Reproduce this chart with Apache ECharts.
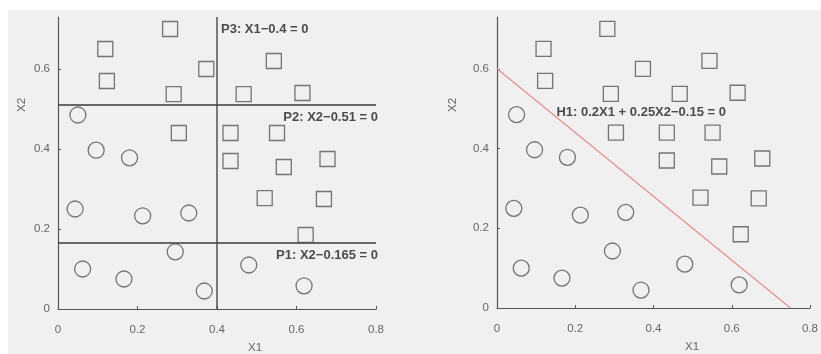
<!DOCTYPE html>
<html>
<head>
<meta charset="utf-8">
<script src="https://cdn.jsdelivr.net/npm/echarts@6/dist/echarts.min.js"></script>
<style>
html,body{margin:0;padding:0;background:#fff;}
#c{width:821px;height:354px;}
</style>
</head>
<body>
<div id="c"></div>
<script>
// Class A (squares): [X1, X2]
const squares = [
  [0.282, 0.700], [0.119, 0.650], [0.123, 0.570], [0.373, 0.600],
  [0.291, 0.537], [0.467, 0.537], [0.543, 0.620], [0.615, 0.540],
  [0.304, 0.440], [0.434, 0.440], [0.551, 0.440], [0.434, 0.370],
  [0.568, 0.355], [0.678, 0.375], [0.520, 0.277], [0.669, 0.275],
  [0.623, 0.185]
];
// Class B (circles): [X1, X2]
const circles = [
  [0.050, 0.485], [0.096, 0.397], [0.180, 0.378], [0.043, 0.250],
  [0.213, 0.233], [0.329, 0.240], [0.295, 0.143], [0.062, 0.100],
  [0.166, 0.075], [0.368, 0.045], [0.480, 0.110], [0.619, 0.058]
];
// Partition lines (left panel)
const p1Line = [[0, 0.165], [0.8, 0.165]];
const p2Line = [[0, 0.51], [0.8, 0.51]];
const p3Line = [[0.4, 0], [0.4, 0.73]];
// Hyperplane (right panel): 0.2X1 + 0.25X2 - 0.15 = 0
const h1Line = [[0, 0.6], [0.75, 0]];
// Line labels: [x, y, text, align]
const leftLabels = [
  [0.41, 0.70, 'P3: X1\u22120.4 = 0', 'left'],
  [0.805, 0.478, 'P2: X2\u22120.51 = 0', 'right'],
  [0.805, 0.135, 'P1: X2\u22120.165 = 0', 'right']
];
const rightLabels = [
  [0.152, 0.49, 'H1: 0.2X1 + 0.25X2\u22120.15 = 0', 'left']
];
const xTicks = { min: 0, max: 0.8, interval: 0.2 };
const yTicks = { min: 0, max: 0.73, interval: 0.2 };

const chart = echarts.init(document.getElementById('c'));
const axisCol = '#555';
const tickLabel = { color: '#666', fontSize: 11.5, fontFamily: 'Liberation Sans' };

function xAxis(gi) {
  return {
    gridIndex: gi, type: 'value', min: xTicks.min, max: xTicks.max, interval: xTicks.interval,
    axisLine: { show: true, onZero: false, lineStyle: { color: axisCol, width: 1.2 } },
    axisTick: { show: true, inside: true, length: 3, lineStyle: { color: axisCol } },
    axisLabel: Object.assign({ margin: 15 }, tickLabel),
    splitLine: { show: false }
  };
}
function yAxis(gi) {
  return {
    gridIndex: gi, type: 'value', min: yTicks.min, max: yTicks.max, interval: yTicks.interval,
    axisLine: { show: true, onZero: false, lineStyle: { color: axisCol, width: 1.2 } },
    axisTick: { show: true, inside: true, length: 3, lineStyle: { color: axisCol } },
    axisLabel: Object.assign({ margin: 8, showMaxLabel: false }, tickLabel),
    splitLine: { show: false }
  };
}
function markerSeries(gi, data, sym, size) {
  return {
    type: 'scatter', xAxisIndex: gi, yAxisIndex: gi, data: data, symbol: sym, symbolSize: size,
    itemStyle: { color: 'rgba(0,0,0,0)', borderColor: '#555', borderWidth: 1.3 },
    silent: true, z: 3
  };
}
function lineSeries(gi, data, color, w) {
  return {
    type: 'line', xAxisIndex: gi, yAxisIndex: gi, data: data, symbol: 'none',
    lineStyle: { color: color, width: w }, silent: true, z: 2
  };
}
function labelSeries(gi, data) {
  return {
    type: 'scatter', xAxisIndex: gi, yAxisIndex: gi, symbolSize: 0, clip: false,
    data: data.map(d => ({ value: [d[0], d[1]], label: { align: d[3], formatter: d[2] } })),
    label: { show: true, position: 'inside', color: '#222', fontSize: 13, fontWeight: 'bold',
             fontFamily: 'Liberation Sans', verticalAlign: 'middle' },
    silent: true, z: 5
  };
}

const nameStyle = { fill: '#666', fontSize: 11.5, fontFamily: 'Liberation Sans' };
chart.setOption({
  backgroundColor: '#fff',
  animation: false,
  graphic: [
    { type: 'rect', shape: { x: 8, y: 10, width: 813, height: 344 }, style: { fill: '#f0f0f0' }, z: -10 },
    { type: 'text', x: 255, y: 348, style: Object.assign({ text: 'X1', align: 'center', verticalAlign: 'middle' }, nameStyle) },
    { type: 'text', x: 692, y: 347, style: Object.assign({ text: 'X1', align: 'center', verticalAlign: 'middle' }, nameStyle) },
    { type: 'text', x: 22, y: 105, rotation: Math.PI / 2, style: Object.assign({ text: 'X2', align: 'center', verticalAlign: 'middle' }, nameStyle) },
    { type: 'text', x: 453, y: 105, rotation: Math.PI / 2, style: Object.assign({ text: 'X2', align: 'center', verticalAlign: 'middle' }, nameStyle) }
  ],
  grid: [
    { left: 58, top: 17, width: 318, height: 292 },
    { left: 497, top: 17, width: 317, height: 291 }
  ],
  xAxis: [xAxis(0), xAxis(1)],
  yAxis: [yAxis(0), yAxis(1)],
  series: [
    lineSeries(0, p1Line, '#3a3a3a', 1.3),
    lineSeries(0, p2Line, '#3a3a3a', 1.3),
    lineSeries(0, p3Line, '#3a3a3a', 1.3),
    markerSeries(0, squares, 'rect', 15),
    markerSeries(0, circles, 'circle', 16),
    labelSeries(0, leftLabels),
    lineSeries(1, h1Line, '#e79090', 1.3),
    markerSeries(1, squares, 'rect', 15),
    markerSeries(1, circles, 'circle', 16),
    labelSeries(1, rightLabels)
  ]
});
</script>
</body>
</html>
